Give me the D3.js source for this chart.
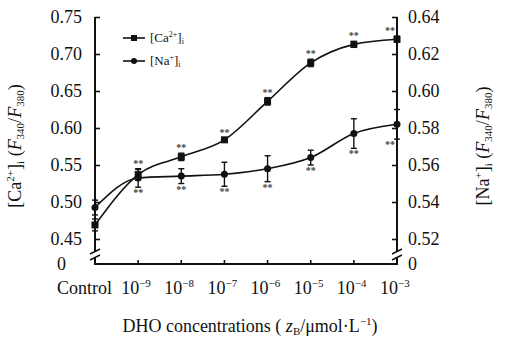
<!DOCTYPE html>
<html>
<head>
<meta charset="utf-8">
<script src="https://cdn.jsdelivr.net/npm/d3@7"></script>
<style>
    body { margin: 0; background: white; }
    svg text { font-family: "Liberation Serif", "Times New Roman", "DejaVu Serif", serif; fill: #111; }
</style>
</head>
<body>
<div class="container"></div>
<script>
// categories on the x axis
var categories = ["Control", "-9", "-8", "-7", "-6", "-5", "-4", "-3"];

// [Ca2+]i ratio (left axis) and its error
var caValues = [0.469, 0.537, 0.561, 0.584, 0.636, 0.688, 0.713, 0.720];
var caErrors = [0.008, 0.007, 0.005, 0.003, 0.005, 0.005, 0.004, 0.004];

// [Na+]i ratio (right axis) and its error
var naValues = [0.537, 0.553, 0.554, 0.555, 0.558, 0.564, 0.577, 0.582];
var naErrors = [0.004, 0.005, 0.004, 0.0065, 0.007, 0.004, 0.008, 0.008];

// significance marks (first point is the control)
var caStars = ["", "**", "**", "**", "**", "**", "**", "**"];
var naStars = ["", "**", "**", "**", "**", "**", "**", "**"];

// tick labels
var leftTicks = [0.45, 0.50, 0.55, 0.60, 0.65, 0.70, 0.75];
var rightTicks = [0.52, 0.54, 0.56, 0.58, 0.60, 0.62, 0.64];

function drawChart() {
    const width = 509, height = 342;
    const margin = {top: 17, left: 95, right: 112, bottom: 78};
    const plotBottom = 239;          // position of lowest labelled tick
    const baseline = height - margin.bottom;
    const serif = "Liberation Serif, Times New Roman, serif";

    const svg = d3.select(".container")
                  .append("svg")
                  .attr("width", width)
                  .attr("height", height)
                  .attr("font-family", serif);

    // scales
    var xScale = d3.scalePoint()
                   .domain(categories)
                   .range([margin.left, width - margin.right]);

    var yLeft = d3.scaleLinear()
                  .domain([0.45, 0.75])
                  .range([plotBottom, margin.top]);

    var yRight = d3.scaleLinear()
                   .domain([0.52, 0.64])
                   .range([plotBottom, margin.top]);

    var xLeft = xScale(categories[0]);
    var xRight = xScale(categories[categories.length - 1]);

    // left axis, ticks inward
    var leftAxis = svg.append("g")
       .attr("transform", "translate(" + xLeft + ",0)")
       .call(d3.axisLeft(yLeft).tickValues(leftTicks).tickSizeInner(-5)
               .tickSizeOuter(0).tickPadding(13).tickFormat(d3.format(".2f")));
    leftAxis.select(".domain").remove();

    // right axis, ticks inward
    var rightAxis = svg.append("g")
       .attr("transform", "translate(" + xRight + ",0)")
       .call(d3.axisRight(yRight).tickValues(rightTicks).tickSizeInner(-5)
               .tickSizeOuter(0).tickPadding(11).tickFormat(d3.format(".2f")));
    rightAxis.select(".domain").remove();

    svg.selectAll("g").attr("font-family", serif);
    svg.selectAll(".tick line").attr("stroke", "#111").attr("stroke-width", 1.6);
    svg.selectAll(".tick text").attr("font-size", 18).attr("fill", "#111");

    // axis lines with a break near the bottom
    function breakAxis(x) {
        svg.append("line").attr("x1", x).attr("x2", x)
           .attr("y1", margin.top).attr("y2", baseline - 12)
           .attr("stroke", "#111").attr("stroke-width", 2);
        svg.append("line").attr("x1", x).attr("x2", x)
           .attr("y1", baseline - 6).attr("y2", baseline)
           .attr("stroke", "#111").attr("stroke-width", 2);
        [baseline - 12, baseline - 6].forEach(function(y) {
            svg.append("line")
               .attr("x1", x - 5).attr("y1", y + 2)
               .attr("x2", x + 5).attr("y2", y - 3)
               .attr("stroke", "#111").attr("stroke-width", 1.5);
        });
        svg.append("text").attr("x", x < width / 2 ? x - 38 : x + 11)
           .attr("y", baseline + 6).attr("font-size", 18).text("0");
    }
    breakAxis(xLeft);
    breakAxis(xRight);

    // x axis
    svg.append("line").attr("x1", xLeft - 1).attr("x2", xRight + 1)
       .attr("y1", baseline).attr("y2", baseline)
       .attr("stroke", "#111").attr("stroke-width", 2);

    svg.selectAll(".xtick")
       .data(categories.slice(1))
       .enter().append("line")
       .attr("x1", d => xScale(d)).attr("x2", d => xScale(d))
       .attr("y1", baseline).attr("y2", baseline - 4)
       .attr("stroke", "#111").attr("stroke-width", 1.6);

    // x tick labels
    var xLabels = svg.selectAll(".xlabel")
       .data(categories)
       .enter().append("text")
       .attr("class", "xlabel")
       .attr("font-size", 18)
       .attr("y", baseline + 30);

    xLabels.filter((d, i) => i == 0)
       .attr("x", d => xScale(d) + 17)
       .attr("text-anchor", "end")
       .text(d => d);

    var powers = xLabels.filter((d, i) => i > 0)
       .attr("x", d => xScale(d) - 17);
    powers.append("tspan").text("10");
    powers.append("tspan").attr("dy", -7).attr("font-size", 11)
          .text(d => "\u2212" + d.slice(1));

    // axis titles
    var xTitle = svg.append("text")
       .attr("x", 250).attr("y", baseline + 68)
       .attr("text-anchor", "middle").attr("font-size", 18);
    xTitle.append("tspan").text("DHO concentrations ( ");
    xTitle.append("tspan").attr("font-style", "italic").text("z");
    xTitle.append("tspan").attr("font-size", 11).attr("dy", 3).text("B");
    xTitle.append("tspan").attr("dy", -3).text("/\u03bcmol\u00b7L");
    xTitle.append("tspan").attr("font-size", 11).attr("dy", -7).text("\u22121");
    xTitle.append("tspan").attr("dy", 7).text(")");

    function yTitle(x, ion, charge) {
        var t = svg.append("text")
           .attr("transform", "translate(" + x + ",146) rotate(-90)")
           .attr("text-anchor", "middle").attr("font-size", 18);
        t.append("tspan").text("[" + ion);
        t.append("tspan").attr("font-size", 11).attr("dy", -7).text(charge);
        t.append("tspan").attr("dy", 7).text("]");
        t.append("tspan").attr("font-size", 11).attr("dy", 3).text("i");
        t.append("tspan").attr("dy", -3).text(" (");
        t.append("tspan").attr("font-style", "italic").text("F");
        t.append("tspan").attr("font-size", 11).attr("dy", 3).text("340");
        t.append("tspan").attr("dy", -3).text("/");
        t.append("tspan").attr("font-style", "italic").text("F");
        t.append("tspan").attr("font-size", 11).attr("dy", 3).text("380");
        t.append("tspan").attr("dy", -3).text(")");
    }
    yTitle(21, "Ca", "2+");
    yTitle(489, "Na", "+");

    // this function draws one series with curve, error bars, markers and stars
    function drawSeries(values, errors, stars, yScale, shape, starsAbove) {
        var points = values.map(function(v, i) {
            return {cat: categories[i], v: v, e: errors[i], s: stars[i], i: i};
        });

        var line = d3.line()
                     .x(d => xScale(d.cat))
                     .y(d => yScale(d.v))
                     .curve(d3.curveMonotoneX);

        svg.append("path")
           .datum(points)
           .attr("d", line)
           .attr("fill", "none")
           .attr("stroke", "#111")
           .attr("stroke-width", 1.6);

        var g = svg.append("g");
        var bars = g.selectAll(".err").data(points).enter().append("g");
        bars.append("line")
            .attr("x1", d => xScale(d.cat)).attr("x2", d => xScale(d.cat))
            .attr("y1", d => yScale(d.v - d.e)).attr("y2", d => yScale(d.v + d.e))
            .attr("stroke", "#111").attr("stroke-width", 1.4);
        [-1, 1].forEach(function(sign) {
            bars.append("line")
                .attr("x1", d => xScale(d.cat) - 3).attr("x2", d => xScale(d.cat) + 3)
                .attr("y1", d => yScale(d.v + sign * d.e))
                .attr("y2", d => yScale(d.v + sign * d.e))
                .attr("stroke", "#111").attr("stroke-width", 1.4);
        });

        if (shape == "square") {
            g.selectAll(".mark").data(points).enter().append("rect")
             .attr("x", d => xScale(d.cat) - 3.5).attr("y", d => yScale(d.v) - 3.5)
             .attr("width", 7).attr("height", 7).attr("fill", "#111");
        } else {
            g.selectAll(".mark").data(points).enter().append("circle")
             .attr("cx", d => xScale(d.cat)).attr("cy", d => yScale(d.v))
             .attr("r", 3.5).attr("fill", "#111");
        }

        g.selectAll(".star").data(points.filter(d => d.s)).enter().append("text")
         .attr("x", d => xScale(d.cat) - (d.i == points.length - 1 ? 7 : 0))
         .attr("y", d => starsAbove ? yScale(d.v + d.e) - 2 : yScale(d.v - d.e) + 9)
         .attr("text-anchor", "middle")
         .attr("font-size", 10)
         .attr("font-weight", "bold")
         .style("fill", "#444")
         .text(d => d.s);
    }
    drawSeries(caValues, caErrors, caStars, yLeft, "square", true);
    drawSeries(naValues, naErrors, naStars, yRight, "circle", false);

    // legend
    var legend = svg.append("g").attr("transform", "translate(123,38)");
    [["Ca", "2+", "square"], ["Na", "+", "circle"]].forEach(function(item, i) {
        var row = legend.append("g").attr("transform", "translate(0," + (i * 23) + ")");
        row.append("line").attr("x1", 0).attr("x2", 22)
           .attr("stroke", "#111").attr("stroke-width", 1.6);
        if (item[2] == "square") {
            row.append("rect").attr("x", 8).attr("y", -3).attr("width", 6)
               .attr("height", 6).attr("fill", "#111");
        } else {
            row.append("circle").attr("cx", 11).attr("r", 3).attr("fill", "#111");
        }
        var t = row.append("text").attr("x", 27).attr("y", 4).attr("font-size", 13);
        t.append("tspan").text("[" + item[0]);
        t.append("tspan").attr("font-size", 8).attr("dy", -5).text(item[1]);
        t.append("tspan").attr("dy", 5).text("]");
        t.append("tspan").attr("font-size", 8).attr("dy", 2).text("i");
    });
}

drawChart();
</script>
</body>
</html>
